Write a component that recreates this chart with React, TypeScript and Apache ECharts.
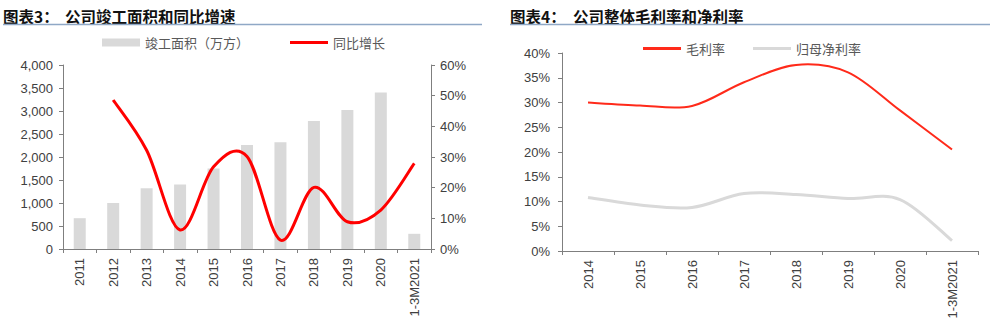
import React, { useEffect, useRef } from "react";
import * as echarts from "echarts";

const areaCategories = ["2011", "2012", "2013", "2014", "2015", "2016", "2017", "2018", "2019", "2020", "1-3M2021"];
const completedArea = [670, 1000, 1320, 1400, 1750, 2260, 2320, 2780, 3020, 3400, 330];
const areaGrowth = [null, 48.6, 32.2, 6.2, 26.8, 30.2, 2.9, 20.1, 8.9, 12.7, 27.9];

const marginCategories = ["2014", "2015", "2016", "2017", "2018", "2019", "2020", "1-3M2021"];
const grossMargin = [30.0, 29.4, 29.3, 34.1, 37.6, 36.1, 28.4, 20.5];
const netMargin = [10.8, 9.3, 8.8, 11.6, 11.4, 10.6, 10.4, 2.1];

const leftTicks = { min: 0, max: 4000, interval: 500 };
const leftPctTicks = { min: 0, max: 60, interval: 10 };
const rightTicks = { min: 0, max: 40, interval: 5 };

const FONT = "Liberation Sans, Arial, sans-serif";
const CJK = "Noto Sans CJK SC";
const AXIS_COLOR = "#7f7f7f";
const LABEL_COLOR = "#404040";

type Pt = number[];

function toPairs(values: (number | null)[]): number[][] {
  const out: number[][] = [];
  values.forEach((v, i) => {
    if (v !== null && v !== undefined) out.push([i, v]);
  });
  return out;
}

// Excel-style (Catmull-Rom) smoothed path through the projected points
function smoothPath(pts: Pt[]): string {
  if (!pts.length) return "";
  let d = `M${pts[0][0]},${pts[0][1]}`;
  for (let i = 0; i < pts.length - 1; i++) {
    const p0 = pts[i - 1] || pts[i];
    const p1 = pts[i];
    const p2 = pts[i + 1];
    const p3 = pts[i + 2] || pts[i + 1];
    const c1x = p1[0] + (p2[0] - p0[0]) / 6;
    const c1y = p1[1] + (p2[1] - p0[1]) / 6;
    const c2x = p2[0] - (p3[0] - p1[0]) / 6;
    const c2y = p2[1] - (p3[1] - p1[1]) / 6;
    d += ` C${c1x},${c1y} ${c2x},${c2y} ${p2[0]},${p2[1]}`;
  }
  return d;
}

function smoothLineSeries(
  name: string,
  values: (number | null)[],
  xAxisIndex: number,
  yAxisIndex: number,
  color: string,
  width: number
) {
  const pairs = toPairs(values);
  return {
    name,
    type: "custom",
    xAxisIndex,
    yAxisIndex,
    z: 5,
    data: pairs,
    encode: { x: 0, y: 1 },
    itemStyle: { color },
    renderItem: (params: any, api: any) => {
      if (params.dataIndex !== 0) return null;
      const pts = pairs.map((p) => api.coord(p));
      return {
        type: "path",
        z2: 10,
        shape: { pathData: smoothPath(pts) },
        style: { fill: "none", stroke: color, lineWidth: width, lineJoin: "round", lineCap: "butt" },
      };
    },
  };
}

export default function App() {
  const ref = useRef<HTMLDivElement>(null);
  useEffect(() => {
    if (!ref.current) return;
    const chart = echarts.init(ref.current, undefined, { renderer: "svg" });
    const axisLine = { show: true, lineStyle: { color: AXIS_COLOR, width: 1 } };
    const axisTickY = { show: true, inside: false, length: 4, lineStyle: { color: AXIS_COLOR } };
    const axisLabel = { color: LABEL_COLOR, fontFamily: FONT, fontSize: 13 };
    const legendText = { color: "#595959", fontFamily: CJK, fontSize: 13 };
    chart.setOption({
      animation: false,
      backgroundColor: "#ffffff",
      graphic: [
        { type: "text", left: 3, top: 8, style: { text: "图表3：", font: `bold 15.5px ${CJK}`, fill: "#111" } },
        { type: "text", left: 65, top: 8, style: { text: "公司竣工面积和同比增速", font: `bold 15.5px ${CJK}`, fill: "#111" } },
        { type: "line", shape: { x1: 3, y1: 24.5, x2: 482, y2: 24.5 }, style: { stroke: "#8fa8c6", lineWidth: 1.5 } },
        { type: "text", left: 510, top: 8, style: { text: "图表4：", font: `bold 15.5px ${CJK}`, fill: "#111" } },
        { type: "text", left: 573, top: 8, style: { text: "公司整体毛利率和净利率", font: `bold 15.5px ${CJK}`, fill: "#111" } },
        { type: "line", shape: { x1: 510, y1: 24.5, x2: 990, y2: 24.5 }, style: { stroke: "#8fa8c6", lineWidth: 1.5 } },
      ],
      legend: [
        {
          left: 102,
          top: 36,
          padding: 0,
          itemWidth: 38,
          itemHeight: 8,
          textStyle: legendText,
          data: [{ name: "竣工面积（万方）", icon: "rect" }],
        },
        {
          left: 290,
          top: 36,
          padding: 0,
          itemWidth: 38,
          itemHeight: 3,
          textStyle: legendText,
          data: [{ name: "同比增长", icon: "rect" }],
        },
        {
          left: 643,
          top: 42,
          padding: 0,
          itemWidth: 38,
          itemHeight: 3,
          itemGap: 28,
          textStyle: legendText,
          data: [
            { name: "毛利率", icon: "rect" },
            { name: "归母净利率", icon: "rect" },
          ],
        },
      ],
      grid: [
        { left: 63, right: 569, top: 65, bottom: 76 },
        { left: 562, right: 22, top: 53, bottom: 74 },
      ],
      xAxis: [
        {
          type: "category",
          gridIndex: 0,
          data: areaCategories,
          boundaryGap: true,
          axisLine,
          axisTick: { show: true, length: 4, lineStyle: { color: AXIS_COLOR } },
          axisLabel: { ...axisLabel, rotate: 90, margin: 9, interval: 0 },
        },
        {
          type: "category",
          gridIndex: 1,
          data: marginCategories,
          boundaryGap: true,
          axisLine,
          axisTick: { show: true, length: 4, lineStyle: { color: AXIS_COLOR } },
          axisLabel: { ...axisLabel, rotate: 90, margin: 9, interval: 0 },
        },
      ],
      yAxis: [
        {
          type: "value",
          gridIndex: 0,
          ...leftTicks,
          axisLine,
          axisTick: axisTickY,
          splitLine: { show: false },
          axisLabel: {
            ...axisLabel,
            margin: 10,
            formatter: (v: number) => v.toLocaleString("en-US"),
          },
        },
        {
          type: "value",
          gridIndex: 0,
          position: "right",
          ...leftPctTicks,
          axisLine,
          axisTick: axisTickY,
          splitLine: { show: false },
          axisLabel: { ...axisLabel, margin: 9, formatter: "{value}%" },
        },
        {
          type: "value",
          gridIndex: 1,
          ...rightTicks,
          axisLine,
          axisTick: axisTickY,
          splitLine: { show: false },
          axisLabel: { ...axisLabel, margin: 12, formatter: "{value}%" },
        },
      ],
      series: [
        {
          name: "竣工面积（万方）",
          type: "bar",
          xAxisIndex: 0,
          yAxisIndex: 0,
          z: 1,
          data: completedArea,
          barWidth: 12,
          itemStyle: { color: "#d9d9d9" },
        },
        smoothLineSeries("同比增长", areaGrowth, 0, 1, "#ff0000", 3),
        smoothLineSeries("毛利率", grossMargin, 1, 2, "#ff2a1a", 2),
        smoothLineSeries("归母净利率", netMargin, 1, 2, "#d9d9d9", 3),
      ],
    });
    return () => chart.dispose();
  }, []);
  return (
    <div
      ref={ref}
      style={{ position: "fixed", left: 0, top: 0, width: 1000, height: 325, background: "#fff" }}
    />
  );
}
